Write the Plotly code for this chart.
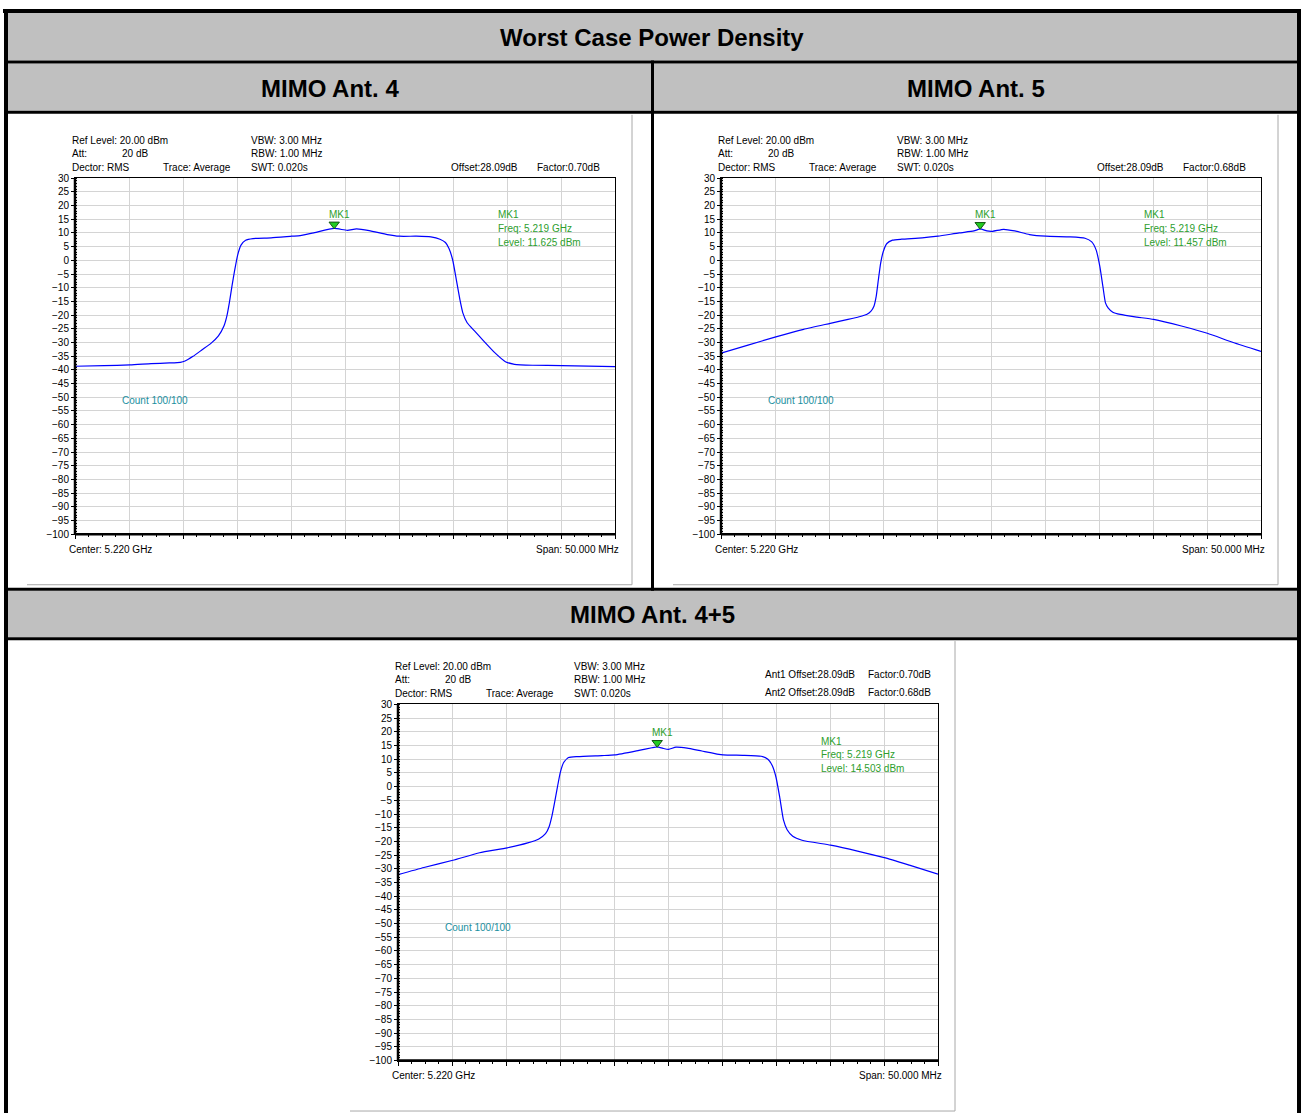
import plotly.graph_objects as go

W, H = 1301, 1119

# ---------------- data (frequency in MHz, level in dBm) ----------------
freq_ant4 = [5195.00, 5197.69, 5200.11, 5202.06, 5203.74, 5204.75, 5205.19, 5205.93, 5206.77,
             5207.61, 5208.28, 5208.79, 5209.06, 5209.29, 5209.53, 5209.79, 5210.06, 5210.37,
             5210.80, 5211.48, 5213.16, 5215.07, 5215.85, 5217.19, 5219.00, 5220.22, 5221.06,
             5222.24, 5223.92, 5225.03, 5226.61, 5227.95, 5228.79, 5229.30, 5229.63, 5229.97,
             5230.31, 5230.64, 5230.91, 5231.31, 5231.99, 5232.83, 5233.84, 5234.85, 5235.69,
             5237.37, 5240.06, 5245.00]
level_ant4 = [-38.67, -38.43, -38.19, -37.71, -37.47, -37.23, -36.75, -35.06, -32.65,
              -30.24, -27.59, -23.98, -20.36, -15.54, -9.52, -3.49, 1.93, 5.54,
              7.35, 7.95, 8.19, 8.80, 9.04, 10.12, 11.625, 10.96, 11.45,
              10.84, 9.40, 8.80, 8.80, 8.55, 7.71, 6.51, 4.34, 0.12,
              -7.11, -14.34, -19.16, -22.77, -25.78, -29.40, -33.61, -36.99, -37.95,
              -38.31, -38.43, -38.80]

freq_ant5 = [5195.00, 5197.50, 5200.08, 5202.65, 5205.12, 5206.76, 5207.79, 5208.48, 5208.89,
             5209.16, 5209.37, 5209.57, 5209.78, 5210.02, 5210.36, 5210.88, 5211.74, 5213.62,
             5215.10, 5217.05, 5218.42, 5219.00, 5219.62, 5220.14, 5221.17, 5222.20, 5223.57,
             5225.08, 5227.34, 5228.71, 5229.33, 5229.74, 5230.08, 5230.36, 5230.60, 5230.84,
             5231.28, 5231.97, 5233.51, 5235.06, 5237.63, 5240.03, 5242.43, 5245.00]
level_ant5 = [-33.86, -30.96, -27.95, -25.18, -23.01, -21.57, -20.60, -19.76, -18.55,
              -16.75, -13.13, -7.11, -1.08, 3.13, 6.14, 7.35, 7.71, 8.19,
              8.80, 10.00, 10.72, 11.457, 10.72, 10.60, 11.33, 10.72, 9.40,
              8.80, 8.55, 8.07, 6.75, 3.73, -2.29, -9.52, -15.54, -17.35,
              -18.92, -19.76, -20.72, -21.57, -23.98, -26.63, -30.00, -33.25]

freq_ant45 = [5195.00, 5197.40, 5200.08, 5202.55, 5205.12, 5207.01, 5208.04, 5208.66, 5209.00,
              5209.24, 5209.48, 5209.76, 5210.03, 5210.34, 5210.79, 5211.64, 5213.87, 5215.08,
              5217.31, 5218.51, 5219.00, 5219.54, 5220.05, 5220.74, 5221.77, 5223.14, 5225.10,
              5226.92, 5228.63, 5229.25, 5229.66, 5230.00, 5230.34, 5230.69, 5231.03, 5231.55,
              5232.41, 5235.05, 5237.55, 5240.02, 5242.35, 5245.00]
level_ant45 = [-32.16, -29.52, -26.89, -24.13, -22.34, -20.54, -19.10, -17.19, -14.55,
               -10.96, -6.17, -0.18, 5.21, 8.80, 10.60, 10.96, 11.32, 11.56,
               13.23, 14.19, 14.503, 13.95, 13.59, 14.43, 14.07, 12.99, 11.56,
               11.44, 11.08, 10.00, 7.60, 3.41, -3.77, -12.16, -15.75, -18.14,
               -19.58, -21.38, -23.53, -25.93, -28.68, -31.92]

marker_freq = [5219.0, 5219.0, 5219.0]
marker_level = [11.625, 11.457, 14.503]
marker_freq_text = ["5.219 GHz", "5.219 GHz", "5.219 GHz"]
panel_titles = ["MIMO Ant. 4", "MIMO Ant. 5", "MIMO Ant. 4+5"]
main_title = "Worst Case Power Density"
factors = ["0.70dB", "0.68dB"]

x_start, x_stop = 5195.0, 5245.0
y_min, y_max = -100, 30

# ---------------- helpers ----------------
def px(x):
    return x / W


def py(y):
    return 1 - y / H


FONT = "Liberation Sans"
GREEN = "#2E9E2E"
TEAL = "#1A8FA0"

fig = go.Figure()
shapes = []
annotations = []


def rect(x0, y0, x1, y1, color):
    shapes.append(dict(type="rect", xref="paper", yref="paper",
                       x0=px(x0), x1=px(x1), y0=py(y1), y1=py(y0),
                       fillcolor=color, line=dict(width=0), layer="below"))


def line(x0, y0, x1, y1, color, width=1):
    shapes.append(dict(type="line", xref="paper", yref="paper",
                       x0=px(x0), x1=px(x1), y0=py(y0), y1=py(y1),
                       line=dict(color=color, width=width), layer="above"))


def text(t, x, y, size=10, color="black", anchor="left", bold=False):
    annotations.append(dict(text=("<b>%s</b>" % t) if bold else t, x=px(x), y=py(y),
                            xref="paper", yref="paper", xanchor=anchor, yanchor="middle",
                            showarrow=False, font=dict(family=FONT, size=size, color=color)))


# ---------------- table frame ----------------
GRAY = "#C0C0C0"
rect(8, 7, 1297, 55, GRAY)
rect(8, 58, 1297, 106, GRAY)
rect(8, 591, 1297, 638, GRAY)
# black rules
rect(3, 3, 1301, 7, "black")
rect(4, 3, 8, 1119, "black")
rect(1297, 3, 1301, 1119, "black")
rect(4, 55, 1301, 58, "black")
rect(4, 106, 1301, 109, "black")
rect(651, 55, 654, 591, "black")
rect(4, 588, 1301, 591, "black")
rect(4, 638, 1301, 641, "black")

text(main_title, 652, 32, size=24, bold=True, anchor="center")
text(panel_titles[0], 330, 83, size=24, bold=True, anchor="center")
text(panel_titles[1], 976, 83, size=24, bold=True, anchor="center")
text(panel_titles[2], 652, 615, size=24, bold=True, anchor="center")

# screenshot thin frames
line(632, 110, 632, 585, "#A8A8A8")
line(27, 585, 632, 585, "#A8A8A8")
line(1278, 110, 1278, 585, "#A8A8A8")
line(673, 585, 1278, 585, "#A8A8A8")
line(955, 642, 955, 1117, "#A8A8A8")
line(350, 1117, 955, 1117, "#A8A8A8")

# ---------------- panels ----------------
panels = [
    dict(dx=0, dy=0, freq=freq_ant4, level=level_ant4),
    dict(dx=646, dy=0, freq=freq_ant5, level=level_ant5),
    dict(dx=323, dy=532, freq=freq_ant45, level=level_ant45),
]

layout_axes = {}
for i, p in enumerate(panels):
    n = i + 1
    dx, dy = p["dx"], p["dy"]
    xa = "x" if n == 1 else "x%d" % n
    ya = "y" if n == 1 else "y%d" % n
    xkey = "xaxis" if n == 1 else "xaxis%d" % n
    ykey = "yaxis" if n == 1 else "yaxis%d" % n
    L, T, R, B = 75 + dx, 174 + dy, 615 + dx, 534 + dy

    layout_axes[xkey] = dict(
        domain=[px(L), px(R)], anchor=ya, range=[x_start, x_stop],
        tickmode="linear", tick0=x_start, dtick=5, ticks="outside", ticklen=4,
        tickcolor="black", showticklabels=False, showgrid=True, gridcolor="#D4D4D4",
        gridwidth=1, showline=True, linecolor="black", linewidth=1, mirror=True,
        zeroline=False, fixedrange=True,
        minor=dict(tick0=x_start, dtick=1.25, ticks="outside", ticklen=2,
                   tickcolor="black", showgrid=False),
    )
    layout_axes[ykey] = dict(
        domain=[py(B), py(T)], anchor=xa, range=[y_min, y_max],
        tickmode="linear", tick0=y_min, dtick=5, ticks="outside", ticklen=3,
        tickcolor="black", tickfont=dict(family=FONT, size=10, color="black"),
        showgrid=True, gridcolor="#D4D4D4", gridwidth=1, showline=True,
        linecolor="black", linewidth=1, mirror=True, zeroline=False, fixedrange=True,
        minor=dict(dtick=1, ticks="inside", ticklen=2, tickcolor="black", showgrid=False),
    )
    # thicker left / bottom axis lines
    shapes.append(dict(type="line", xref="%s domain" % xa, yref="%s domain" % ya,
                       x0=0, x1=0, y0=0, y1=1, line=dict(color="black", width=2.5)))
    shapes.append(dict(type="line", xref="%s domain" % xa, yref="%s domain" % ya,
                       x0=0, x1=1, y0=0, y1=0, line=dict(color="black", width=2.5)))

    fig.add_trace(go.Scatter(x=p["freq"], y=p["level"], mode="lines", xaxis=xa, yaxis=ya,
                             line=dict(color="#0000FF", width=1.2, shape="spline",
                                       smoothing=0.5),
                             showlegend=False, hoverinfo="skip"))
    # marker triangle (tip on the trace)
    fig.add_trace(go.Scatter(x=[marker_freq[i]], y=[marker_level[i] + 1.5], mode="markers",
                             xaxis=xa, yaxis=ya, showlegend=False, hoverinfo="skip",
                             marker=dict(symbol="triangle-down", size=9, color="#22CC22",
                                         line=dict(color="#115511", width=1))))
    annotations.append(dict(text="MK1", x=marker_freq[i], y=marker_level[i], xref=xa, yref=ya,
                            xanchor="center", yanchor="middle", yshift=14, xshift=5,
                            showarrow=False, font=dict(family=FONT, size=10, color=GREEN)))

    # header info texts
    text("Ref Level: 20.00 dBm", 70 + dx, 136 + dy)
    text("Att:", 70 + dx, 149 + dy)
    text("20 dB", 120 + dx, 149 + dy)
    text("Dector: RMS", 70 + dx, 163 + dy)
    text("Trace: Average", 161 + dx, 163 + dy)
    text("VBW: 3.00 MHz", 249 + dx, 136 + dy)
    text("RBW: 1.00 MHz", 249 + dx, 149 + dy)
    text("SWT: 0.020s", 249 + dx, 163 + dy)
    if n < 3:
        text("Offset:28.09dB", 449 + dx, 163 + dy)
        text("Factor:" + factors[i], 535 + dx, 163 + dy)
    else:
        text("Ant1 Offset:28.09dB", 763, 676)
        text("Factor:" + factors[0], 866, 676)
        text("Ant2 Offset:28.09dB", 763, 694)
        text("Factor:" + factors[1], 866, 694)

    # marker readout box
    text("MK1", 496 + dx, 211 + dy, color=GREEN)
    text("Freq: " + marker_freq_text[i], 496 + dx, 225 + dy, color=GREEN)
    text("Level: %.3f dBm" % marker_level[i], 496 + dx, 239 + dy, color=GREEN)

    text("Count 100/100", 120 + dx, 399 + dy, color=TEAL)
    text("Center: 5.220 GHz", 67 + dx, 549 + dy)
    text("Span: 50.000 MHz", 621 + dx, 549 + dy, anchor="right")

fig.update_layout(
    width=W, height=H, margin=dict(l=0, r=0, t=0, b=0),
    paper_bgcolor="white", plot_bgcolor="white",
    shapes=shapes, annotations=annotations, showlegend=False,
    **layout_axes,
)

fig.write_html("out.html")
